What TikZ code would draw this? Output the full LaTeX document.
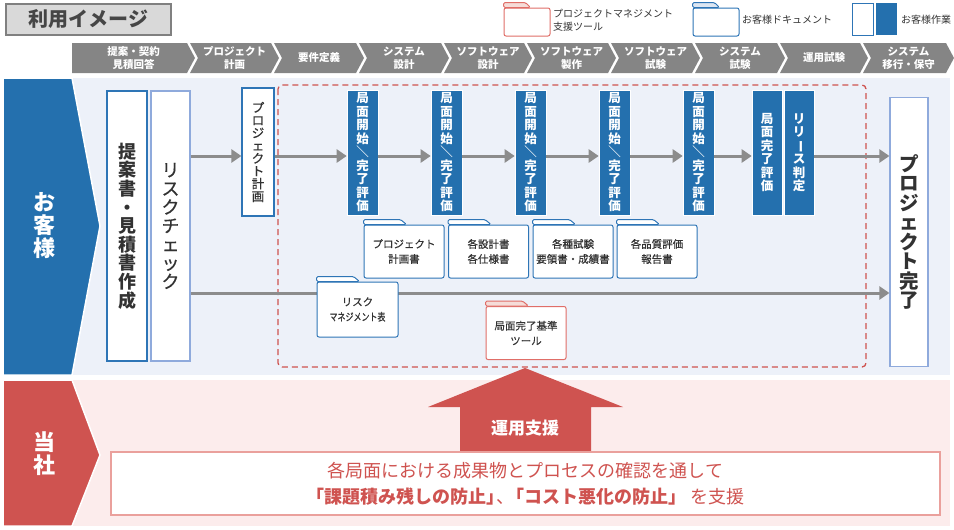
\documentclass[tikz,border=0pt]{standalone}
\usepackage{fontspec}
\setmainfont{Noto Sans CJK JP}
\newfontfamily\medfont[FakeBold=0.5]{Noto Sans CJK JP}
\usepackage{graphicx}
\usetikzlibrary{arrows.meta}
\definecolor{custblue}{RGB}{36,112,174}
\definecolor{boxblue}{RGB}{46,117,182}
\definecolor{lightblue}{RGB}{143,170,220}
\definecolor{redc}{RGB}{207,83,80}
\definecolor{docred}{RGB}{224,110,104}
\definecolor{tabpink}{RGB}{245,220,216}
\definecolor{tabblue}{RGB}{220,230,242}
\definecolor{lanebg}{RGB}{237,241,249}
\definecolor{pinkbg}{RGB}{252,236,236}
\definecolor{boxpink}{RGB}{234,160,156}
\definecolor{phasegray}{RGB}{133,133,133}
\definecolor{flowgray}{RGB}{140,140,140}
\definecolor{textgray}{RGB}{50,50,50}
\begin{document}
\begin{tikzpicture}[x=1pt,y=-1pt,
    vbox/.style={draw=boxblue,fill=white,line width=1.2pt,inner sep=0pt,align=center,text=textgray},
    evalbox/.style={fill=custblue,draw=white,line width=0.6pt,inner sep=0pt,minimum width=31pt,minimum height=125pt,align=center,text=white,font=\bfseries\fontsize{12.5}{13.5}\selectfont},
    flow/.style={draw=flowgray,line width=3pt,-{Triangle[length=10pt,width=13pt]}},
    doc/.style={draw=boxblue,fill=white,line width=1pt,rounded corners=2pt,inner sep=0pt,minimum width=80pt,minimum height=53pt,align=center,text=textgray,font=\medfont\fontsize{10.5}{15}\selectfont},
    doctab/.style={draw=boxblue,fill=white,line width=1pt,rounded corners=1.5pt},
    phasetxt/.style={align=center,text=white,font=\bfseries\fontsize{10.5}{13}\selectfont},
    legtxt/.style={anchor=west,align=left,text=textgray,inner sep=0pt,font=\fontsize{10}{13}\selectfont},
    lanetxt/.style={align=center,text=white,font=\bfseries\fontsize{22}{23}\selectfont}]
\useasboundingbox (0,0) rectangle (954,530);

\fill[lanebg] (5,78) rectangle (950,375);
\fill[pinkbg] (5,380) rectangle (950,526);
\filldraw[custblue,draw=white,line width=1.5pt] (3,78) -- (72,78) -- (100,226) -- (72,375) -- (3,375) -- cycle;
\filldraw[redc,draw=white,line width=1.5pt] (3,380) -- (72,380) -- (100,455) -- (72,526) -- (3,526) -- cycle;
\node[lanetxt] (cust) at (44,226) {お\\客\\様};
\node[lanetxt] (own) at (44,454) {当\\社};

\node[draw=gray!100,fill=gray!30,line width=2pt,minimum width=165pt,minimum height=31pt,text=textgray!90,font=\bfseries\fontsize{20}{22}\selectfont] (title) at (88.5,19) {利用イメージ};

\node[doc,draw=docred,minimum width=46pt,minimum height=28pt] (lgred) at (527,22) {};
\filldraw[doctab,draw=docred,fill=tabpink] (lgred.north west) -- ++(0,-5) -- ++(22,0) -- ++(5,5) -- cycle;
\node[legtxt] (lgt1) at (553,20) {プロジェクトマネジメント\\支援ツール};
\node[doc,minimum width=46pt,minimum height=28pt] (lgblue) at (716,22) {};
\filldraw[doctab,fill=tabblue] (lgblue.north west) -- ++(0,-5) -- ++(22,0) -- ++(5,5) -- cycle;
\node[legtxt] (lgt2) at (742,20) {お客様ドキュメント};
\node[vbox,line width=1pt,minimum width=21pt,minimum height=32pt] (lgw) at (862.5,19) {};
\node[fill=custblue,minimum width=21pt,minimum height=32pt,inner sep=0pt] (lgb) at (886.5,19) {};
\node[legtxt] (lgt3) at (901,20) {お客様作業};

\foreach \i/\l/\r/\n/\t in {1/72/187/0/{提案・契約\\見積回答},2/190/271/8/{プロジェクト\\計画},3/274/356/8/要件定義,4/359/441/8/{システム\\設計},5/444/524/8/{ソフトウェア\\設計},6/527/608/8/{ソフトウェア\\製作},7/611/692/8/{ソフトウェア\\試験},8/695/777/8/{システム\\試験},9/780/860/8/運用試験,10/863/946/8/{システム\\移行・保守}}{
    \fill[phasegray] (\l,43) -- (\r,43) -- ({\r+8},58) -- (\r,73) -- (\l,73) -- ({\l+\n},58) -- cycle;
    \node[phasetxt] (p\i) at ({(\l+\r)/2+4},58) {\t};
}

\draw[redc,dash pattern=on 6pt off 4pt,line width=1.3pt,rounded corners=4pt] (278,85) rectangle (866,367);

\node[vbox,minimum width=40pt,minimum height=270pt,font=\bfseries\fontsize{18}{18.6}\selectfont] (prop) at (127,226) {提\\案\\書\\・\\見\\積\\書\\作\\成};
\node[vbox,draw=lightblue,minimum width=39pt,minimum height=270pt,font=\medfont\fontsize{18}{18.6}\selectfont] (risk) at (170.5,226) {リ\\ス\\ク\\チ\\ェ\\ッ\\ク};
\node[vbox,minimum width=32pt,minimum height=128pt,font=\medfont\fontsize{12.5}{12.7}\selectfont] (plan) at (258,152) {プ\\ロ\\ジ\\ェ\\ク\\ト\\計\\画};
\foreach \i/\x in {1/362.5,2/446.5,3/530.5,4/614.5,5/698.5}{
    \node[evalbox] (e\i) at (\x,152.5) {局\\面\\開\\始\\＼\\完\\了\\評\\価};
}
\node[evalbox,minimum width=30pt] (fin) at (767,152.5) {局\\面\\完\\了\\評\\価};
\node[evalbox,minimum width=30pt] (rel) at (799,152.5) {リ\\リ\\\rotatebox[origin=c]{-90}{ー}\\ス\\判\\定};
\node[vbox,draw=lightblue,minimum width=38pt,minimum height=269pt,font=\bfseries\fontsize{19.5}{19.5}\selectfont] (done) at (909,232) {プ\\ロ\\ジ\\ェ\\ク\\ト\\完\\了};

\coordinate (upline) at (0,156);
\coordinate (lowline) at (0,293);
\draw[flow] (risk.east |- upline) -- (plan.west |- upline);
\foreach \a/\b in {plan/e1,e1/e2,e2/e3,e3/e4,e4/e5,e5/fin,rel/done}{
    \draw[flow] (\a.east |- upline) -- (\b.west |- upline);
}
\draw[flow] (risk.east |- lowline) -- (done.west |- lowline);

\foreach \n/\x/\t in {d1/404/{プロジェクト\\計画書},d2/488.5/{各設計書\\各仕様書},d3/573/{各種試験\\要領書・成績書},d4/657/{各品質評価\\報告書}}{
    \node[doc] (\n) at (\x,251.5) {\t};
    \filldraw[doctab] (\n.north west) -- ++(0,-5) -- ++(37,0) -- ++(6,5) -- cycle;
}
\node[doc,minimum width=81pt,minimum height=55pt] (dr) at (357.5,309.5) {リスク\\\scalebox{0.76}[1]{マネジメント表}};
\filldraw[doctab] (dr.north west) -- ++(0,-5) -- ++(37,0) -- ++(6,5) -- cycle;
\node[doc,draw=docred] (dt) at (526,333) {局面完了基準\\ツール};
\filldraw[doctab,draw=docred,fill=tabpink] (dt.north west) -- ++(0,-5) -- ++(37,0) -- ++(6,5) -- cycle;

\fill[redc] (460,452) -- (460,407) -- (428,407) -- (525,368) -- (623,407) -- (591,407) -- (591,452) -- cycle;
\node[text=white,font=\bfseries\fontsize{17}{18}\selectfont] (help) at (525,428) {運用支援};
\node[draw=boxpink,fill=white,line width=1.5pt,minimum width=829pt,minimum height=63pt,align=center,text=redc,font=\fontsize{18}{26}\selectfont] (msg) at (525.5,483.5) {各局面における成果物とプロセスの確認を通して\\\textbf{「課題積み残しの防止」}\kern-0.45em、\kern-0.45em\textbf{「コスト悪化の防止」} を支援};
\end{tikzpicture}
\end{document}
